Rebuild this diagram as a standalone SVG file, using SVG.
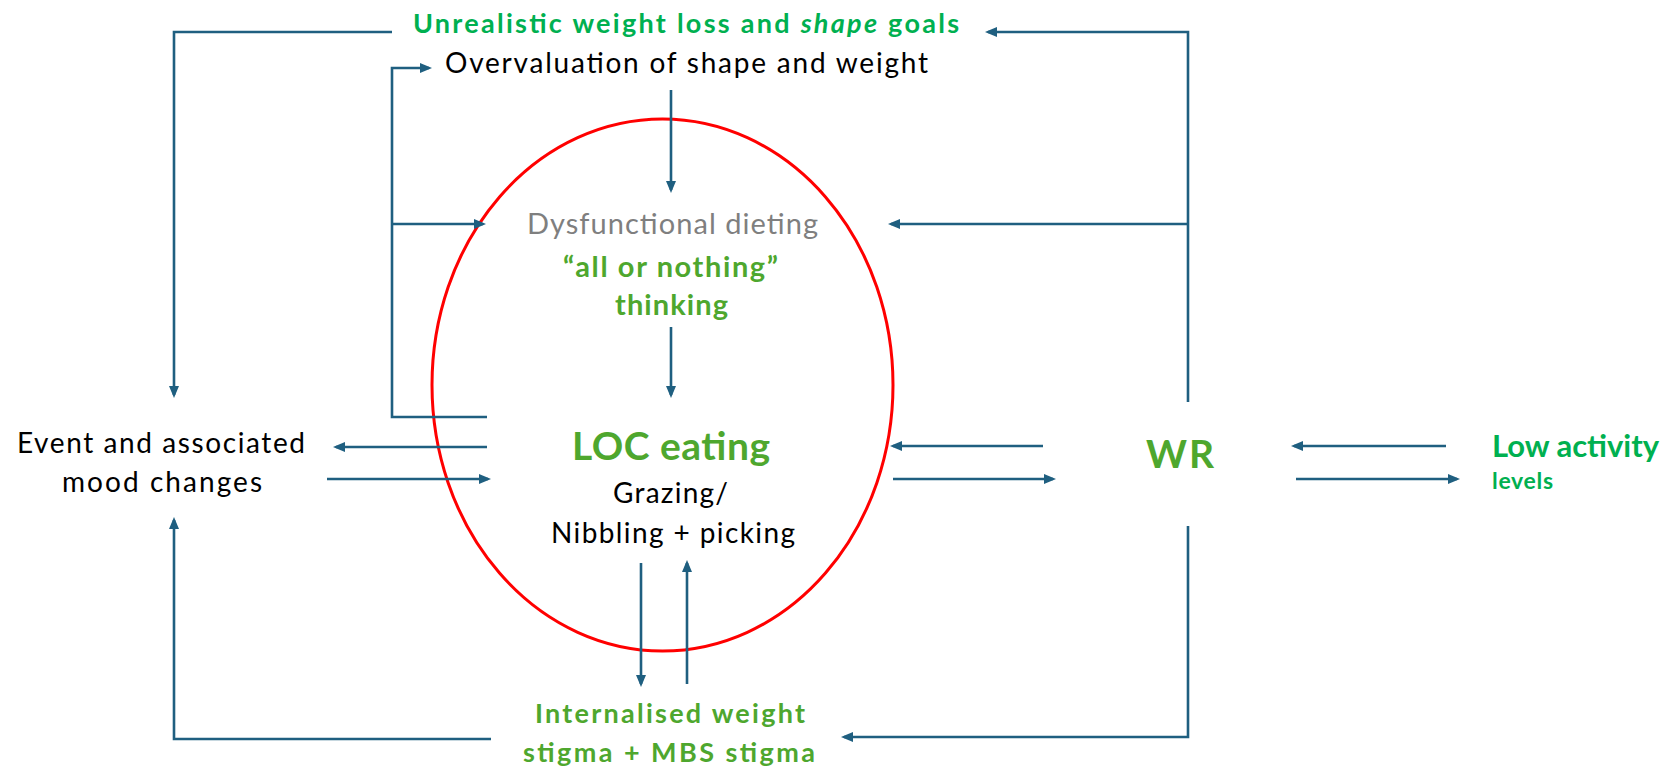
<svg xmlns="http://www.w3.org/2000/svg" width="1665" height="775" viewBox="0 0 1665 775">
<defs>
<marker id="ah" markerUnits="userSpaceOnUse" markerWidth="12" markerHeight="10" refX="9" refY="5" orient="auto">
<path d="M0,0 L12,5 L0,10 z" fill="#1F5F80"/>
</marker>
<style>
.c{fill:none;stroke:#1F5F80;stroke-width:2.6}
.a{marker-end:url(#ah)}
text{font-family:Lato,"Open Sans","Liberation Sans",sans-serif}
.b{font-weight:bold}
.bk{fill:#000}
.g1{fill:#00B050}
.g2{fill:#4EA72E}
.gr{fill:#7F7F7F}
</style>
</defs>
<rect width="1665" height="775" fill="#fff"/>
<g id="loc-ellipse">
<ellipse cx="662.5" cy="385" rx="230.5" ry="266" fill="none" stroke="#FF0000" stroke-width="3"/>
</g>
<g id="connectors">
<path class="c a" d="M392,32 H174 V395"/>
<path class="c a" d="M1188,402 V32 H988"/>
<path class="c a" d="M1188,224 H891"/>
<path class="c a" d="M487,417 H392 V68 H429"/>
<path class="c a" d="M392,224 H483"/>
<path class="c a" d="M671,90 V190"/>
<path class="c a" d="M671,327 V395"/>
<path class="c a" d="M487,447 H336"/>
<path class="c a" d="M327,479 H488"/>
<path class="c a" d="M1043,446 H893"/>
<path class="c a" d="M893,479 H1053"/>
<path class="c a" d="M1446,446 H1294"/>
<path class="c a" d="M1296,479 H1457"/>
<path class="c a" d="M1188,526 V737 H844"/>
<path class="c a" d="M491,739 H174 V520"/>
<path class="c a" d="M641,563 V684"/>
<path class="c a" d="M687,684 V563"/>
</g>
<g id="unrealistic-goals">
<text class="b g1" x="413" y="33" font-size="27" textLength="546">Unrealistic weight loss and <tspan font-style="italic">shape</tspan> goals</text>
</g>
<g id="overvaluation">
<text class="bk" x="445" y="73" font-size="28" textLength="483">Overvaluation of shape and weight</text>
</g>
<g id="dysfunctional-dieting">
<text class="gr" x="527" y="234" font-size="29" textLength="291">Dysfunctional dieting</text>
<text class="b g2" x="563" y="277" font-size="29" textLength="215">“all or nothing”</text>
<text class="b g2" x="615" y="315" font-size="29" textLength="113">thinking</text>
</g>
<g id="event-mood">
<text class="bk" x="17" y="453" font-size="28" textLength="288">Event and associated</text>
<text class="bk" x="62" y="492" font-size="28" textLength="200">mood changes</text>
</g>
<g id="loc-eating">
<text class="b g2" x="572" y="460" font-size="39" textLength="198">LOC eating</text>
<text class="bk" x="613" y="503" font-size="28" textLength="115">Grazing/</text>
<text class="bk" x="551" y="543" font-size="28" textLength="244">Nibbling + picking</text>
</g>
<g id="wr">
<text class="b g2" x="1146" y="468" font-size="39" textLength="68">WR</text>
</g>
<g id="low-activity">
<text class="b g1" x="1492" y="457" font-size="31" textLength="167">Low activity</text>
<text class="b g1" x="1492" y="489" font-size="23" textLength="61">levels</text>
</g>
<g id="internalised-stigma">
<text class="b g2" x="535" y="723" font-size="27" textLength="270">Internalised weight</text>
<text class="b g2" x="523" y="762" font-size="27" textLength="292">stigma + MBS stigma</text>
</g>
</svg>
